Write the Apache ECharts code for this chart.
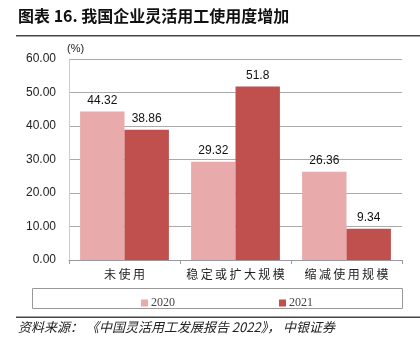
<!DOCTYPE html>
<html><head><meta charset="utf-8">
<script src="https://cdn.jsdelivr.net/npm/echarts@6/dist/echarts.min.js"></script>
<style>html,body{margin:0;padding:0;background:#fff}#c{width:420px;height:356px}</style>
</head><body><div id="c"></div>
<script>
const categories = ['未使用', '稳定或扩大规模', '缩减使用规模'];
const series2020 = [44.32, 29.32, 26.36];
const series2021 = [38.86, 51.8, 9.34];
const seriesNames = ['2020', '2021'];
const yTicks = [0, 10, 20, 30, 40, 50, 60];

const chart = echarts.init(document.getElementById('c'));
const numFont = 'Liberation Sans, Arial, sans-serif';
const cjkFont = '"Noto Sans CJK SC", sans-serif';
chart.setOption({
  animation: false,
  backgroundColor: '#fff',
  grid: { left: 69, right: 18, top: 59, bottom: 96 },
  legend: {
    data: seriesNames,
    left: 136, top: 292,
    itemWidth: 7, itemHeight: 7, itemGap: 104,
    icon: 'rect',
    textStyle: { fontFamily: 'Liberation Serif, Times New Roman, serif', fontSize: 12, color: '#444', padding: [0,0,0,-2] }
  },
  xAxis: {
    type: 'category', data: categories,
    axisLine: { lineStyle: { color: '#999' } },
    axisTick: { show: true, length: 4, lineStyle: { color: '#999' } },
    axisLabel: { interval: 0, fontFamily: cjkFont, fontSize: 12, color: '#222', margin: 8,
      formatter: v => v.split('').join('\u2009') }
  },
  yAxis: {
    type: 'value', min: yTicks[0], max: yTicks[yTicks.length-1], interval: 10,
    axisLine: { show: true, lineStyle: { color: '#ccc' } },
    axisTick: { show: false },
    splitLine: { lineStyle: { color: '#aaa', width: 1 } },
    axisLabel: { fontFamily: numFont, fontSize: 12, color: '#222', margin: 13,
      formatter: v => v.toFixed(2) }
  },
  series: [
    { name: seriesNames[0], type: 'bar', data: series2020, barGap: '0%', barCategoryGap: '20%',
      itemStyle: { color: '#E8AAAA' },
      label: { show: true, position: 'top', fontFamily: numFont, fontSize: 12, color: '#111', distance: 5 } },
    { name: seriesNames[1], type: 'bar', data: series2021,
      itemStyle: { color: '#C0504D' },
      label: { show: true, position: 'top', fontFamily: numFont, fontSize: 12, color: '#111', distance: 5 } }
  ],
  graphic: [
    { type: 'text', left: 18, top: 8, style: { text: '图表 16. 我国企业灵活用工使用度增加', font: 'bold 16px "Noto Sans CJK SC", sans-serif', fill: '#111' } },
    { type: 'rect', shape: { x: 16, y: 35, width: 404, height: 1.5 }, style: { fill: '#444' } },
    { type: 'text', left: 67, top: 43, style: { text: '(%)', font: '11px Liberation Sans, Arial, sans-serif', fill: '#222' } },
    { type: 'rect', shape: { x: 32.5, y: 288.5, width: 370, height: 20 }, style: { fill: 'none', stroke: '#999', lineWidth: 1 }, z: -1 },
    { type: 'rect', shape: { x: 16, y: 316.5, width: 404, height: 1.5 }, style: { fill: '#444' } },
    { type: 'text', left: 18, top: 321, style: { text: '资料来源： 《中国灵活用工发展报告 2022》， 中银证券', font: 'italic 13px "Noto Sans CJK SC", sans-serif', fill: '#222' } }
  ]
});
</script></body></html>
